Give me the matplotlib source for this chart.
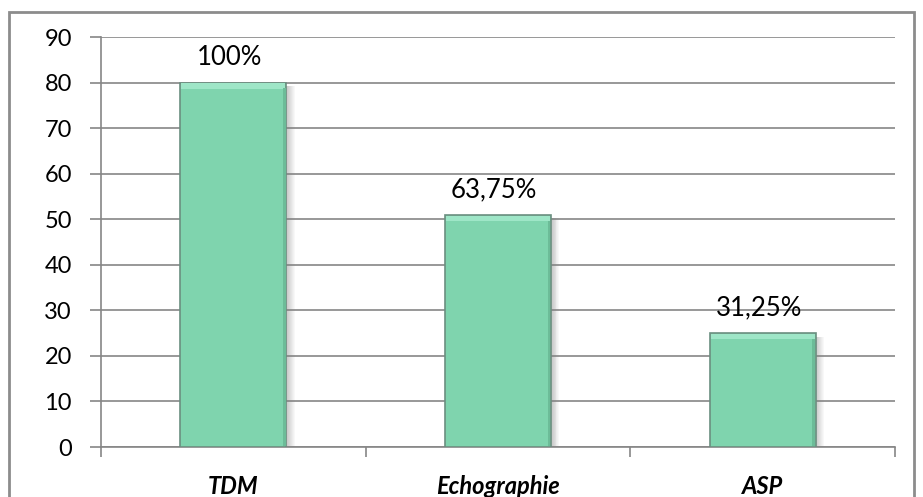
import matplotlib.pyplot as plt
from matplotlib.patches import Rectangle

categories = ['TDM', 'Echographie', 'ASP']
values = [80, 51, 25]
labels = ['100%', '63,75%', '31,25%']

plt.rcParams['font.family'] = ['Lato', 'DejaVu Sans']

fig = plt.figure(figsize=(9.23, 4.97), dpi=100)
ax = fig.add_axes([101 / 923, 50 / 497, 794 / 923, 410 / 497])

# outer chart border
fig.patches.append(Rectangle((9 / 923, -0.05), 905 / 923, 1.05 - 12 / 497,
                             transform=fig.transFigure, fill=False,
                             edgecolor='#8c8c8c', linewidth=2))

x = list(range(len(categories)))
width = 0.4

# soft shadow on the right side of each bar
step = 0.0035
for i, v in zip(x, values):
    for k in range(9):
        ax.add_patch(Rectangle((i + width / 2 + k * step, 0), step, v - 0.8,
                               facecolor='#808080', alpha=0.45 - k * 0.05,
                               edgecolor='none', zorder=2))

ax.bar(x, values, width=width, color='#7fd4ae', edgecolor='#6b8f80',
       linewidth=1.2, zorder=3)

# bevel highlight along the top and a darker right edge
for i, v in zip(x, values):
    ax.add_patch(Rectangle((i - width / 2 + 0.004, v - 1.4), width - 0.008, 1.2,
                           facecolor='#9ee6c7', edgecolor='none', zorder=4))
    ax.add_patch(Rectangle((i + width / 2 - 0.012, 0.3), 0.01, v - 1.6,
                           facecolor='#6cbc98', edgecolor='none', zorder=4))

for i, v, t in zip(x, values, labels):
    ax.text(i - 0.015, v + 3.8, t, ha='center', va='baseline',
            fontsize=18.5, zorder=5)

ax.set_xlim(-0.5, 2.5)
ax.set_ylim(0, 90)
ax.set_yticks(range(0, 91, 10))
ax.yaxis.grid(True, color='#868686', linewidth=1.2, zorder=0)
ax.set_axisbelow(True)

ax.set_xticks([-0.5, 0.5, 1.5, 2.5])
ax.set_xticklabels([])
ax.set_xticks(x, minor=True)
ax.set_xticklabels(categories, minor=True, fontsize=17,
                   fontweight='bold', fontstyle='italic')
ax.tick_params(axis='x', which='minor', length=0, pad=20)
ax.tick_params(axis='x', which='major', length=7, color='#868686', width=1.2)
ax.tick_params(axis='y', length=8, color='#868686', width=1.2,
               labelsize=17, pad=13)

for side in ['top', 'right']:
    ax.spines[side].set_visible(False)
ax.spines['left'].set_color('#868686')
ax.spines['bottom'].set_color('#868686')
ax.spines['left'].set_linewidth(1.2)
ax.spines['bottom'].set_linewidth(1.2)

fig.savefig('out.png', dpi=100)
